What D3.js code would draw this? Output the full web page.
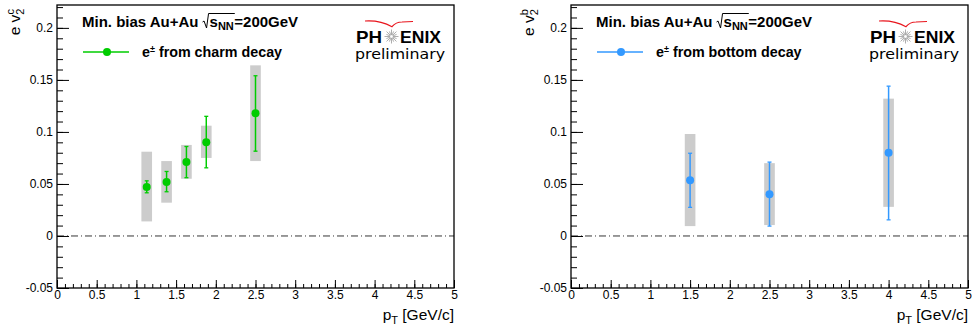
<!DOCTYPE html>
<html>
<head>
<meta charset="utf-8">
<script src="https://cdn.jsdelivr.net/npm/d3@7/dist/d3.min.js"></script>
<style>
  body { margin: 0; background: #fff; }
  text { font-family: "Liberation Sans", Arial, sans-serif; fill: #000; }
</style>
</head>
<body>
<script>
// ---- data ----
var charmPt     = [1.13, 1.38, 1.63, 1.88, 2.5];
var charmV2     = [0.047, 0.052, 0.071, 0.090, 0.118];
var charmStatLo = [0.0415, 0.0425, 0.056, 0.0655, 0.0815];
var charmStatHi = [0.053, 0.062, 0.086, 0.115, 0.154];
var charmSysLo  = [0.014, 0.032, 0.055, 0.075, 0.072];
var charmSysHi  = [0.081, 0.072, 0.0875, 0.106, 0.164];

var bottomPt     = [1.5, 2.5, 4.0];
var bottomV2     = [0.0535, 0.040, 0.080];
var bottomStatLo = [0.0275, 0.0095, 0.0155];
var bottomStatHi = [0.0795, 0.071, 0.144];
var bottomSysLo  = [0.0095, 0.0105, 0.028];
var bottomSysHi  = [0.098, 0.070, 0.132];

var xTicks = [0, 0.5, 1, 1.5, 2, 2.5, 3, 3.5, 4, 4.5, 5];
var xTickLabels = ["0", "0.5", "1", "1.5", "2", "2.5", "3", "3.5", "4", "4.5", "5"];
var yTicks = [-0.05, 0, 0.05, 0.1, 0.15, 0.2];
var yTickLabels = ["-0.05", "0", "0.05", "0.1", "0.15", "0.2"];

var w = 972, h = 328;
var frameW = 397, frameTop = 5, frameBottom = 288;
var sysHalf = 0.067;

var panels = [
  { left: 57, sup: "c", color: "#00cc00", label: "from charm decay",
    pt: charmPt, v2: charmV2, statLo: charmStatLo, statHi: charmStatHi, sysLo: charmSysLo, sysHi: charmSysHi },
  { left: 571, sup: "b", color: "#3399ff", label: "from bottom decay",
    pt: bottomPt, v2: bottomV2, statLo: bottomStatLo, statHi: bottomStatHi, sysLo: bottomSysLo, sysHi: bottomSysHi }
];

var svg = d3.select("body").append("svg")
  .attr("width", w)
  .attr("height", h);

var yScale = d3.scaleLinear().domain([-0.05, 0.222]).range([frameBottom, frameTop]);

function minorTicks(lo, hi, step) {
  var out = [];
  var n = Math.round((hi - lo) / step);
  for (var i = 0; i <= n; i++) out.push(+(lo + i * step).toFixed(4));
  return out;
}

panels.forEach(function (p) {
  var xScale = d3.scaleLinear().domain([0, 5]).range([p.left, p.left + frameW]);
  var g = svg.append("g");

  // systematic boxes
  g.selectAll("rect.sys")
    .data(p.pt)
    .enter().append("rect")
    .attr("fill", "#cccccc")
    .attr("x", function (d) { return xScale(d - sysHalf); })
    .attr("width", function (d) { return xScale(d + sysHalf) - xScale(d - sysHalf); })
    .attr("y", function (d, i) { return yScale(p.sysHi[i]); })
    .attr("height", function (d, i) { return yScale(p.sysLo[i]) - yScale(p.sysHi[i]); });

  // zero line
  g.append("line")
    .attr("x1", xScale(0)).attr("x2", xScale(5))
    .attr("y1", yScale(0)).attr("y2", yScale(0))
    .attr("stroke", "#000").attr("stroke-width", 0.8)
    .attr("stroke-dasharray", "7,3,1,3");

  // minor y ticks
  g.append("g")
    .attr("transform", "translate(" + p.left + ",0)")
    .call(d3.axisLeft(yScale).tickValues(minorTicks(-0.05, 0.22, 0.01)).tickSizeInner(-6).tickSizeOuter(0).tickFormat(""))
    .call(function (a) { a.select(".domain").remove(); });
  // major y ticks
  g.append("g")
    .attr("transform", "translate(" + p.left + ",0)")
    .call(d3.axisLeft(yScale).tickValues(yTicks).tickSizeInner(-12).tickSizeOuter(0).tickPadding(4)
      .tickFormat(function (d, i) { return yTickLabels[i]; }))
    .call(function (a) {
      a.select(".domain").remove();
      a.selectAll("text").style("font-size", "12px").style("font-family", "Liberation Sans, Arial, sans-serif").attr("fill", "#000");
    });

  // minor x ticks
  g.append("g")
    .attr("transform", "translate(0," + frameBottom + ")")
    .call(d3.axisBottom(xScale).tickValues(minorTicks(0, 5, 0.1)).tickSizeInner(-4).tickSizeOuter(0).tickFormat(""))
    .call(function (a) { a.select(".domain").remove(); });
  // major x ticks
  g.append("g")
    .attr("transform", "translate(0," + frameBottom + ")")
    .call(d3.axisBottom(xScale).tickValues(xTicks).tickSizeInner(-8).tickSizeOuter(0).tickPadding(2)
      .tickFormat(function (d, i) { return xTickLabels[i]; }))
    .call(function (a) {
      a.select(".domain").remove();
      a.selectAll("text").style("font-size", "12px").style("font-family", "Liberation Sans, Arial, sans-serif").attr("fill", "#000");
    });

  // frame
  g.append("rect")
    .attr("x", p.left).attr("y", frameTop)
    .attr("width", frameW).attr("height", frameBottom - frameTop)
    .attr("fill", "none").attr("stroke", "#000").attr("stroke-width", 1.3);

  // stat error bars
  g.selectAll("line.stat")
    .data(p.pt)
    .enter().append("line")
    .attr("stroke", p.color).attr("stroke-width", 1.5)
    .attr("x1", function (d) { return xScale(d); })
    .attr("x2", function (d) { return xScale(d); })
    .attr("y1", function (d, i) { return yScale(p.statHi[i]); })
    .attr("y2", function (d, i) { return yScale(p.statLo[i]); });
  [p.statHi, p.statLo].forEach(function (arr) {
    g.selectAll(null)
      .data(p.pt)
      .enter().append("line")
      .attr("stroke", p.color).attr("stroke-width", 1.3)
      .attr("x1", function (d) { return xScale(d) - 2; })
      .attr("x2", function (d) { return xScale(d) + 2; })
      .attr("y1", function (d, i) { return yScale(arr[i]); })
      .attr("y2", function (d, i) { return yScale(arr[i]); });
  });

  // points
  g.selectAll("circle.pt")
    .data(p.pt)
    .enter().append("circle")
    .attr("fill", p.color)
    .attr("cx", function (d) { return xScale(d); })
    .attr("cy", function (d, i) { return yScale(p.v2[i]); })
    .attr("r", 4);

  // title: Min. bias Au+Au sqrt(s_NN)=200GeV
  var tx = p.left + 25, ty = 27;
  var t1 = g.append("text").attr("x", tx).attr("y", ty)
    .style("font-size", "15px").style("font-weight", "bold")
    .text("Min. bias Au+Au");
  var cx = tx + t1.node().getComputedTextLength() + 4;
  var rx = cx;
  cx += 7;
  var t2 = g.append("text").attr("x", cx).attr("y", ty)
    .style("font-size", "15px").style("font-weight", "bold");
  t2.append("tspan").text("s");
  t2.append("tspan").attr("dy", 3).style("font-size", "11px").text("NN");
  var w2 = t2.node().getComputedTextLength();
  g.append("path")
    .attr("d", "M" + rx + "," + (ty - 5) + " L" + (rx + 1.5) + "," + (ty - 6) +
      " L" + (rx + 4) + "," + (ty + 1) + " L" + (rx + 6) + "," + (ty - 13.5) + " H" + (cx + w2 + 1))
    .attr("fill", "none").attr("stroke", "#000").attr("stroke-width", 1);
  g.append("text").attr("x", cx + w2 + 0.5).attr("y", ty)
    .style("font-size", "15px").style("font-weight", "bold")
    .text("=200GeV");

  // legend
  g.append("line")
    .attr("x1", p.left + 26).attr("x2", p.left + 72)
    .attr("y1", 52).attr("y2", 52)
    .attr("stroke", p.color).attr("stroke-width", 1.5);
  g.append("circle")
    .attr("cx", p.left + 50).attr("cy", 52).attr("r", 4).attr("fill", p.color);
  var lt = g.append("text").attr("x", p.left + 85).attr("y", 56.5)
    .style("font-size", "14.3px").style("font-weight", "bold");
  lt.append("tspan").text("e");
  lt.append("tspan").attr("dy", -5).style("font-size", "9px").text("\u00b1");
  lt.append("tspan").attr("dy", 5).text(" " + p.label);

  // PHENIX preliminary logo
  g.append("text").attr("x", p.left + 299).attr("y", 42.5)
    .style("font-size", "16.5px").style("font-weight", "bold")
    .attr("textLength", 26).attr("lengthAdjust", "spacingAndGlyphs").text("PH");
  var sx = p.left + 334.5, sy = 36.5;
  for (var k = 0; k < 16; k++) {
    var ang = k * Math.PI / 8;
    g.append("line")
      .attr("x1", sx + Math.cos(ang) * 1.5).attr("y1", sy + Math.sin(ang) * 1.5)
      .attr("x2", sx + Math.cos(ang) * (k % 2 ? 5.5 : 7)).attr("y2", sy + Math.sin(ang) * (k % 2 ? 5.5 : 7))
      .attr("stroke", "#999").attr("stroke-width", 0.8);
  }
  g.append("text").attr("x", p.left + 343).attr("y", 42.5)
    .style("font-size", "16.5px").style("font-weight", "bold")
    .attr("textLength", 41).attr("lengthAdjust", "spacingAndGlyphs").text("ENIX");
  g.append("text").attr("x", p.left + 298).attr("y", 59)
    .style("font-size", "14px").style("font-family", "DejaVu Sans, sans-serif")
    .attr("textLength", 90).attr("lengthAdjust", "spacingAndGlyphs")
    .text("preliminary");
  g.append("path")
    .attr("d", "M" + (p.left + 308) + ",21 Q" + (p.left + 323) + ",20 " + (p.left + 335) + ",26.7" +
      " Q" + (p.left + 339) + ",22 " + (p.left + 345) + ",22 L" + (p.left + 356) + ",21.5")
    .attr("fill", "none").attr("stroke", "#e8141c").attr("stroke-width", 1.2);

  // axis titles
  var xt = g.append("text").attr("x", p.left + frameW).attr("y", 320)
    .attr("text-anchor", "end").style("font-size", "15.5px");
  xt.append("tspan").text("p");
  xt.append("tspan").attr("dy", 4).style("font-size", "11px").text("T");
  xt.append("tspan").attr("dy", -4).text(" [GeV/c]");

  var yg = g.append("g").attr("transform", "translate(" + (p.left - 37) + ",0) rotate(-90)");
  var yt = yg.append("text").attr("y", 0).style("font-size", "15.5px");
  yt.append("tspan").text("e v");
  yt.append("tspan").attr("dy", 4).style("font-size", "11px").text("2");
  yt.append("tspan").attr("dx", -6).attr("dy", -10).style("font-size", "11px").text(p.sup);
  var ylen = yt.node().getComputedTextLength();
  yt.attr("x", -3 - ylen);
});
</script>
</body>
</html>
